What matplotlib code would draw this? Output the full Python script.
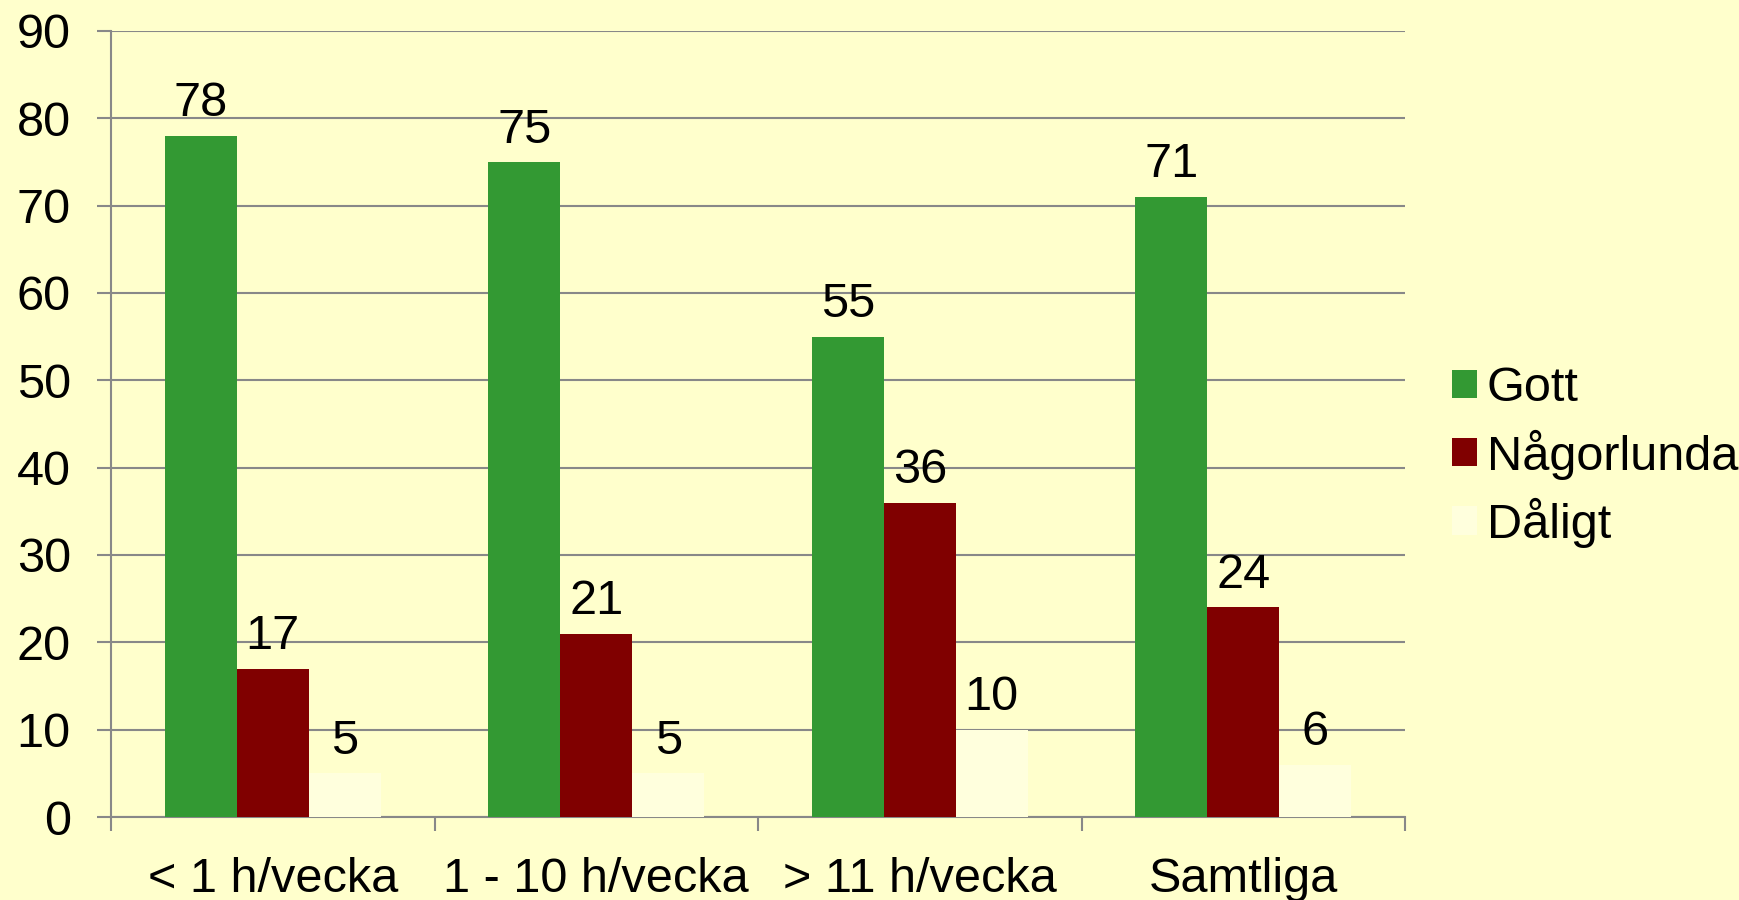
import matplotlib.pyplot as plt
import numpy as np

plt.rcParams['font.family'] = ['Liberation Sans', 'DejaVu Sans']

categories = ['< 1 h/vecka', '1 - 10 h/vecka', '> 11 h/vecka', 'Samtliga']
series_names = ['Gott', 'Någorlunda', 'Dåligt']
gott = [78, 75, 55, 71]
nagorlunda = [17, 21, 36, 24]
daligt = [5, 5, 10, 6]
yticks = [0, 10, 20, 30, 40, 50, 60, 70, 80, 90]

colors = ['#339933', '#800000', '#FFFFDD']
bg = '#FFFFCC'
grey = '#888888'
fs = 35

fig = plt.figure(figsize=(17.4, 9), dpi=100, facecolor=bg)
ax = fig.add_axes([0.0638, 0.0922, 0.7437, 0.8734])
ax.set_facecolor(bg)

x = np.arange(len(categories))
w = 1 / 4.5
handles = []
for i, (vals, name) in enumerate(zip([gott, nagorlunda, daligt], series_names)):
    pos = x + (i - 1) * w
    b = ax.bar(pos, vals, width=w, color=colors[i], label=name, zorder=3)
    handles.append(b)
    for px, v in zip(pos, vals):
        ax.annotate(str(v), (px, v), xytext=(0, 14), textcoords='offset points',
                    ha='center', va='baseline', fontsize=fs, zorder=4)

ax.set_xlim(-0.5, 3.5)
ax.set_ylim(0, 90)
ax.set_yticks(yticks)
ax.yaxis.grid(True, color=grey, linewidth=1.5, zorder=0)
ax.set_axisbelow(True)

# category ticks sit between groups
ax.set_xticks(np.arange(-0.5, 4.0, 1.0))
ax.set_xticklabels([])
ax.set_xticks(x, minor=True)
ax.set_xticklabels(categories, minor=True, fontsize=fs)
ax.tick_params(axis='x', which='minor', length=0, pad=29)
ax.tick_params(axis='x', which='major', length=10, width=1.5, color=grey)
ax.tick_params(axis='y', length=10, width=1.5, color=grey, labelsize=fs, pad=19)

for s in ['top', 'right']:
    ax.spines[s].set_visible(False)
for s in ['left', 'bottom']:
    ax.spines[s].set_color(grey)
    ax.spines[s].set_linewidth(1.5)

leg = ax.legend(handles=handles, loc='center left', bbox_to_anchor=(1.021, 0.458),
                frameon=False, fontsize=fs, handlelength=0.52, handleheight=0.52,
                handletextpad=0.2, labelspacing=0.37, borderaxespad=0)

fig.savefig('out.png', dpi=100, facecolor=bg)
